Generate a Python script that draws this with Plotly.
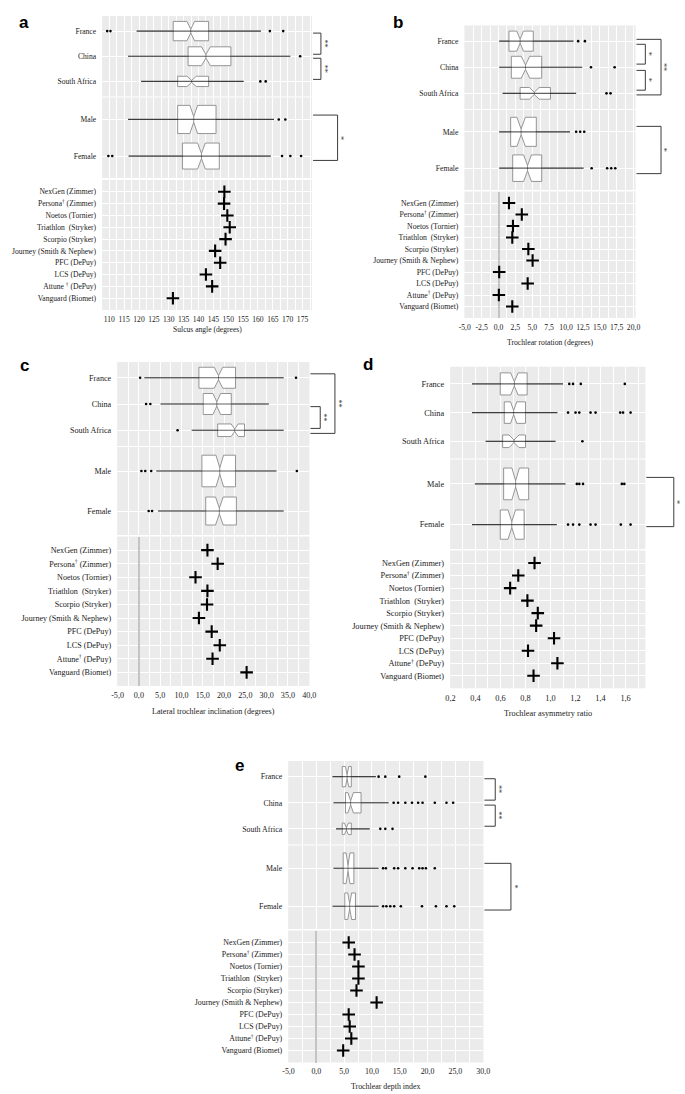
import plotly.graph_objects as go

W, H = 685, 1094
SERIF = "Liberation Serif"
SANS = "Liberation Sans"

# ---------------- categories ----------------
countries = ["France", "China", "South Africa"]
sexes = ["Male", "Female"]
implants = ["NexGen (Zimmer)", "Persona<sup>†</sup> (Zimmer)", "Noetos (Tornier)",
            "Triathlon\u00a0 (Stryker)", "Scorpio (Stryker)", "Journey (Smith & Nephew)",
            "PFC (DePuy)", "LCS (DePuy)", "Attune<sup>†</sup> (DePuy)", "Vanguard (Biomet)"]
implants_a = ["NexGen (Zimmer)", "Persona<sup>†</sup> (Zimmer)", "Noetos (Tornier)",
              "Triathlon\u00a0 (Stryker)", "Scorpio (Stryker)", "Journey (Smith & Nephew)",
              "PFC (DePuy)", "LCS (DePuy)", "Attune <sup>†</sup> (DePuy)", "Vanguard (Biomet)"]

# group order in every box list: France, China, South Africa, Male, Female
# ---------------- panel a : sulcus angle ----------------
a_q1 = [131.5, 136.5, 133.0, 133.0, 134.6]
a_med = [137.4, 142.5, 137.7, 138.4, 141.0]
a_q3 = [143.4, 150.9, 143.4, 145.9, 147.0]
a_lo = [119.2, 116.3, 120.7, 116.3, 116.5]
a_hi = [161.0, 170.9, 155.2, 165.4, 164.3]
a_notch = [1.3, 1.5, 1.6, 1.3, 1.3]
a_n_width = [0.77, 0.75, 0.41, 0.77, 0.71]
a_out = [[109.3, 110.4, 164.0, 168.5], [174.2], [160.8, 162.6], [167.0, 169.2],
         [109.7, 111.0, 168.1, 170.9, 174.5]]
a_implant = [148.7, 148.6, 149.7, 150.5, 149.1, 145.6, 147.3, 142.5, 144.6, 131.4]
a_ticks = [110, 115, 120, 125, 130, 135, 140, 145, 150, 155, 160, 165, 170, 175]
a_ticktext = ["110", "115", "120", "125", "130", "135", "140", "145", "150", "155",
              "160", "165", "170", "175"]

# ---------------- panel b : trochlear rotation ----------------
b_q1 = [1.55, 1.9, 3.2, 1.8, 2.1]
b_med = [3.2, 4.0, 5.3, 3.35, 4.3]
b_q3 = [5.15, 6.4, 7.7, 5.6, 6.4]
b_lo = [0.1, 0.1, 0.6, 0.1, 0.1]
b_hi = [11.1, 12.4, 11.5, 10.6, 12.6]
b_notch = [0.5, 0.63, 0.73, 0.63, 0.58]
b_n_width = [0.77, 0.84, 0.45, 0.8, 0.73]
b_out = [[11.8, 12.8], [13.7, 17.2], [16.0, 16.6], [11.5, 12.1, 12.7],
         [13.8, 16.1, 16.7, 17.3]]
b_implant = [1.55, 3.45, 2.14, 2.04, 4.42, 5.05, 0.1, 4.32, 0.05, 2.04]
b_ticks = [-5.0, -2.5, 0.0, 2.5, 5.0, 7.5, 10.0, 12.5, 15.0, 17.5, 20.0]
b_ticktext = ["-5,0", "-2,5", "0,0", "2,5", "5,0", "7,5", "10,0", "12,5", "15,0",
              "17,5", "20,0"]

# ---------------- panel c : lateral trochlear inclination ----------------
c_q1 = [14.1, 15.1, 18.5, 14.8, 15.7]
c_med = [18.7, 18.3, 22.5, 19.0, 18.9]
c_q3 = [22.7, 21.7, 24.8, 22.7, 22.9]
c_lo = [1.3, 5.1, 12.4, 4.1, 4.5]
c_hi = [34.0, 30.5, 34.0, 32.3, 34.0]
c_notch = [1.0, 0.9, 0.85, 0.9, 0.9]
c_n_width = [0.8, 0.8, 0.48, 0.79, 0.7]
c_out = [[0.3, 36.9], [1.7, 2.7], [9.1], [0.6, 1.5, 2.9, 37.1], [2.3, 3.1]]
c_implant = [16.1, 18.5, 13.3, 16.1, 16.0, 14.1, 17.1, 19.0, 17.3, 25.3]
c_ticks = [-5, 0, 5, 10, 15, 20, 25, 30, 35, 40]
c_ticktext = ["-5,0", "0,0", "5,0", "10,0", "15,0", "20,0", "25,0", "30,0", "35,0", "40,0"]

# ---------------- panel d : trochlear asymmetry ratio ----------------
d_q1 = [0.598, 0.63, 0.617, 0.625, 0.598]
d_med = [0.711, 0.705, 0.708, 0.721, 0.69]
d_q3 = [0.813, 0.80, 0.80, 0.825, 0.789]
d_lo = [0.372, 0.372, 0.481, 0.395, 0.372]
d_hi = [1.10, 1.055, 1.04, 1.12, 1.05]
d_notch = [0.03, 0.025, 0.04, 0.03, 0.03]
d_n_width = [0.77, 0.75, 0.44, 0.78, 0.72]
d_out = [[1.15, 1.18, 1.242, 1.594], [1.14, 1.2, 1.23, 1.32, 1.36, 1.557, 1.58, 1.64],
         [1.255], [1.21, 1.23, 1.26, 1.57, 1.59],
         [1.14, 1.18, 1.23, 1.32, 1.36, 1.562, 1.64]]
d_implant = [0.872, 0.742, 0.677, 0.815, 0.898, 0.885, 1.028, 0.82, 1.055, 0.864]
d_ticks = [0.2, 0.4, 0.6, 0.8, 1.0, 1.2, 1.4, 1.6]
d_ticktext = ["0,2", "0,4", "0,6", "0,8", "1,0", "1,2", "1,4", "1,6"]

# ---------------- panel e : trochlear depth index ----------------
e_q1 = [4.66, 5.24, 4.66, 4.83, 5.12]
e_med = [5.53, 6.17, 5.41, 5.7, 6.0]
e_q3 = [6.29, 8.04, 6.29, 6.75, 7.04]
e_lo = [2.9, 3.08, 3.55, 3.08, 2.9]
e_hi = [10.7, 13.0, 9.6, 11.2, 11.2]
e_notch = [0.3, 0.5, 0.35, 0.35, 0.35]
e_n_width = [0.78, 0.78, 0.44, 0.81, 0.7]
e_out = [[11.2, 12.4, 14.9, 19.6],
         [13.9, 14.7, 16.0, 17.2, 18.3, 19.1, 21.3, 23.4, 24.6],
         [11.5, 12.4, 13.7],
         [12.0, 12.5, 14.0, 14.7, 16.0, 17.3, 18.5, 19.1, 19.7, 21.3],
         [12.0, 12.6, 13.3, 14.0, 15.2, 19.0, 21.5, 23.4, 24.8]]
e_implant = [5.82, 6.87, 7.57, 7.57, 7.22, 10.84, 5.82, 6.0, 6.29, 4.83]
e_ticks = [-5, 0, 5, 10, 15, 20, 25, 30]
e_ticktext = ["-5,0", "0,0", "5,0", "10,0", "15,0", "20,0", "25,0", "30,0"]

titles = {"a": "Sulcus angle (degrees)", "b": "Trochlear rotation (degrees)",
          "c": "Lateral trochlear inclination (degrees)", "d": "Trochlear asymmetry ratio",
          "e": "Trochlear depth index"}

data = {
    "a": dict(q1=a_q1, med=a_med, q3=a_q3, lo=a_lo, hi=a_hi, notch=a_notch, bw=a_n_width,
              out=a_out, imp=a_implant, labels=implants_a, ticks=a_ticks, ticktext=a_ticktext),
    "b": dict(q1=b_q1, med=b_med, q3=b_q3, lo=b_lo, hi=b_hi, notch=b_notch, bw=b_n_width,
              out=b_out, imp=b_implant, labels=implants, ticks=b_ticks, ticktext=b_ticktext),
    "c": dict(q1=c_q1, med=c_med, q3=c_q3, lo=c_lo, hi=c_hi, notch=c_notch, bw=c_n_width,
              out=c_out, imp=c_implant, labels=implants, ticks=c_ticks, ticktext=c_ticktext),
    "d": dict(q1=d_q1, med=d_med, q3=d_q3, lo=d_lo, hi=d_hi, notch=d_notch, bw=d_n_width,
              out=d_out, imp=d_implant, labels=implants, ticks=d_ticks, ticktext=d_ticktext),
    "e": dict(q1=e_q1, med=e_med, q3=e_q3, lo=e_lo, hi=e_hi, notch=e_notch, bw=e_n_width,
              out=e_out, imp=e_implant, labels=implants, ticks=e_ticks, ticktext=e_ticktext),
}

# ---------------- layout geometry (pixels) ----------------
geom = {
    "a": dict(x=(98, 312), c=(16, 96.5), s=(97.5, 178), i=(180, 310), rng=[107.6, 178.2],
              fs=7.6, letter=(18, 22), ty=329, zero=False, minor=2.5),
    "b": dict(x=(467.3, 641.7), c=(25.5, 109), s=(110, 190), i=(191.5, 318), rng=[-5.05, 20.3],
              fs=7.7, letter=(400, 22), ty=342, zero=True, minor=1.25),
    "c": dict(x=(113.3, 309.3), c=(362, 446), s=(447, 535), i=(536.5, 686), rng=[-5.1, 40.05],
              fs=8.1, letter=(19, 366), ty=711, zero=True, minor=2.5),
    "d": dict(x=(452.7, 651.7), c=(366.7, 458.5), s=(459.5, 549), i=(550.5, 688.3),
              rng=[0.197, 1.758], fs=8.3, letter=(369, 364), ty=713, zero=False, minor=0.1),
    "e": dict(x=(287.7, 486.7), c=(761, 844.5), s=(845.5, 929), i=(930.5, 1062.5),
              rng=[-5.05, 30.05], fs=7.9, letter=(238, 765), ty=1086, zero=True, minor=2.5),
}

# significance brackets: (facet, from, to, reach px, label)
brackets = {
    "a": [("c", 0.08, 0.92, 9, "**"), ("c", 1.08, 1.92, 9, "**"), ("s", -0.12, 1.12, 26, "*")],
    "b": [("c", 0.12, 0.88, 10, "*"), ("c", 1.12, 1.88, 10, "*"), ("c", -0.07, 2.06, 26, "**"),
          ("s", -0.15, 1.15, 26, "*")],
    "c": [("c", -0.15, 2.12, 26, "**"), ("c", 1.1, 1.93, 11, "**")],
    "d": [("s", -0.16, 1.05, 29, "*")],
    "e": [("c", 0.08, 0.9, 12, "**"), ("c", 1.09, 1.9, 12, "**"), ("s", -0.13, 1.1, 28, "*")],
}

RANGES = {"c": [2.6, -0.6], "s": [1.6, -0.6], "i": [10.0, -1.0]}


def ydom(top, bot):
    return [1 - bot / H, 1 - top / H]


fig = go.Figure()
layout = dict(width=W, height=H, autosize=False, margin=dict(l=0, r=0, t=0, b=0),
              paper_bgcolor="white", plot_bgcolor="#EBEBEB", showlegend=False,
              font=dict(family=SERIF, color="#1a1a1a"), boxmode="overlay")
shapes, annos = [], []

groups = countries + sexes
for p, key in enumerate(["a", "b", "c", "d", "e"]):
    g, dd = geom[key], data[key]
    n_c, n_s, n_i = 3 * p + 1, 3 * p + 2, 3 * p + 3
    axn = {"c": n_c, "s": n_s, "i": n_i}
    xdom = [g["x"][0] / W, g["x"][1] / W]
    wpx = g["x"][1] - g["x"][0]
    for facet, n in axn.items():
        xs = "" if n == 1 else str(n)
        is_imp = facet == "i"
        layout["xaxis" + xs] = dict(
            domain=xdom, anchor="y" + xs, range=g["rng"], showgrid=True, gridcolor="white",
            gridwidth=1.1, tickmode="array", tickvals=dd["ticks"], ticktext=dd["ticktext"],
            showticklabels=is_imp, ticks="", ticklabelstandoff=3,
            tickfont=dict(family=SERIF, size=g["fs"], color="#1a1a1a"),
            zeroline=bool(is_imp and g["zero"]), zerolinecolor="#C4C4C4", zerolinewidth=1.6,
            showline=False, fixedrange=True,
            minor=dict(tickmode="linear", tick0=dd["ticks"][0], dtick=g["minor"],
                       showgrid=True, gridcolor="white", gridwidth=0.5, ticks=""))
        cats = countries if facet == "c" else (sexes if facet == "s" else dd["labels"])
        layout["yaxis" + xs] = dict(
            domain=ydom(*g[facet]), anchor="x" + xs, type="category",
            categoryorder="array", categoryarray=cats, range=RANGES[facet],
            showgrid=True, gridcolor="white", gridwidth=1.1, ticks="", ticklabelstandoff=5,
            tickfont=dict(family=SERIF, size=g["fs"], color="#1a1a1a"),
            zeroline=False, showline=False, fixedrange=True)

    # boxes
    for k, name in enumerate(groups):
        n = n_c if k < 3 else n_s
        xs = "" if n == 1 else str(n)
        fig.add_trace(go.Box(
            orientation="h", y=[name], q1=[dd["q1"][k]], median=[dd["med"][k]],
            q3=[dd["q3"][k]], lowerfence=[dd["lo"][k]], upperfence=[dd["hi"][k]],
            notched=True, notchspan=[dd["notch"][k]], notchwidth=0.4, width=dd["bw"][k],
            whiskerwidth=0, boxpoints=False, fillcolor="white",
            line=dict(color="#8a8a8a", width=0.9), xaxis="x" + xs, yaxis="y" + xs,
            hoverinfo="skip"))
        fig.add_trace(go.Scatter(
            x=[dd["lo"][k], dd["hi"][k]], y=[name, name], mode="lines",
            line=dict(color="rgba(0,0,0,0.62)", width=1.2), xaxis="x" + xs, yaxis="y" + xs,
            hoverinfo="skip"))
        fig.add_trace(go.Scatter(
            x=dd["out"][k], y=[name] * len(dd["out"][k]), mode="markers",
            marker=dict(color="black", size=2.6), xaxis="x" + xs, yaxis="y" + xs,
            hoverinfo="skip"))

    # implants
    xs = str(n_i)
    fig.add_trace(go.Scatter(
        x=dd["imp"], y=dd["labels"], mode="markers",
        marker=dict(symbol="cross-thin", size=9, color="black",
                    line=dict(color="black", width=2.1)),
        xaxis="x" + xs, yaxis="y" + xs, hoverinfo="skip"))

    # axis title and panel letter
    annos.append(dict(text=titles[key], xref="x%d domain" % n_i, x=0.5, yref="paper",
                      y=1 - g["ty"] / H, xanchor="center", yanchor="middle", showarrow=False,
                      font=dict(family=SERIF, size=g["fs"], color="#1a1a1a")))
    annos.append(dict(text="<b>%s</b>" % key, xref="paper", yref="paper",
                      x=g["letter"][0] / W, y=1 - g["letter"][1] / H, xanchor="center",
                      yanchor="middle", showarrow=False,
                      font=dict(family=SANS, size=17, color="black")))

    # brackets
    for facet, v0, v1, reach, lab in brackets[key]:
        n = axn[facet]
        r = RANGES[facet]
        ya = (v0 - r[0]) / (r[1] - r[0])
        yb = (v1 - r[0]) / (r[1] - r[0])
        x0 = 1 + 1.0 / wpx
        x1 = 1 + reach / wpx
        xr, yr = "x%s domain" % ("" if n == 1 else n), "y%s domain" % ("" if n == 1 else n)
        for (ax0, ay0, ax1, ay1) in [(x0, ya, x1, ya), (x1, ya, x1, yb), (x1, yb, x0, yb)]:
            shapes.append(dict(type="line", xref=xr, yref=yr, x0=ax0, y0=ay0, x1=ax1, y1=ay1,
                               line=dict(color="#3c3c3c", width=1)))
        annos.append(dict(text=lab, xref=xr, yref=yr, x=x1 + 3.2 / wpx, y=(ya + yb) / 2,
                          textangle=90, showarrow=False, xanchor="center", yanchor="middle",
                          font=dict(family=SERIF, size=8, color="#222")))

layout["shapes"] = shapes
layout["annotations"] = annos
fig.update_layout(**layout)

fig.write_html("out.html", config={"displayModeBar": False},
               post_script="document.body.style.margin='0';")
